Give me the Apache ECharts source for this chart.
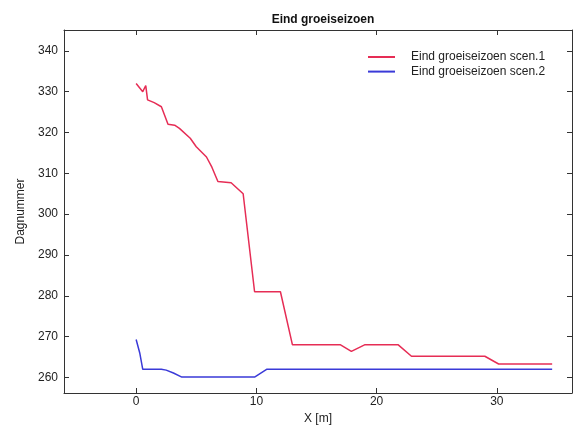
<!DOCTYPE html>
<html>
<head>
<meta charset="utf-8">
<script src="https://cdn.jsdelivr.net/npm/echarts@6/dist/echarts.min.js"></script>
<style>
  html, body { margin: 0; padding: 0; background: #fff; }
  #chart { width: 577px; height: 425px; }
</style>
</head>
<body>
<div id="chart"></div>
<script>
// Distance along the profile (m) and end-of-season day number per scenario
const scen1X = [0, 0.55, 0.8, 0.95, 1.5, 2.1, 2.65, 3.2, 3.6, 4.5, 5.0, 5.85, 6.3, 6.8, 7.9, 8.9, 9.85, 12.0, 13.0, 17.0, 17.9, 19.0, 21.8, 22.9, 29.0, 30.15, 34.6];
const scen1Y = [332, 330, 331.5, 328, 327.3, 326.3, 322, 321.8, 321, 318.6, 316.5, 314, 311.5, 308, 307.7, 305, 281, 281, 268, 268, 266.4, 268, 268, 265.2, 265.2, 263.3, 263.3];

const scen2X = [0, 0.15, 0.3, 0.45, 0.55, 2.1, 2.5, 3.1, 3.8, 9.85, 10.85, 34.6];
const scen2Y = [269.3, 269, 266, 265.6, 262, 262, 261.8, 261.1, 260.1, 260.1, 262, 262];

const xTicks = [0, 10, 20, 30];
const yTicks = [260, 270, 280, 290, 300, 310, 320, 330, 340];

const seriesNames = ['Eind groeiseizoen scen.1', 'Eind groeiseizoen scen.2'];
const titleText = 'Eind groeiseizoen';
const xName = 'X [m]';
const yName = 'Dagnummer';

const pairs = (xs, ys) => xs.map((x, i) => [x, ys[i]]);

const FONT = 'Liberation Sans, Arial, sans-serif';
const AX = '#333';
const X_MIN = -6, X_MAX = 36.25, Y_MIN = 256.2, Y_MAX = 345.1;

const tickStyle = { show: true, inside: true, length: 5, lineStyle: { color: AX, width: 1 } };

const chart = echarts.init(document.getElementById('chart'), null, { renderer: 'canvas' });
chart.setOption({
  animation: false,
  backgroundColor: '#fff',
  title: {
    text: titleText,
    left: 318, textAlign: 'center', top: 9,
    textStyle: { fontFamily: FONT, fontSize: 12, fontWeight: 'bold', color: '#111' }
  },
  legend: {
    orient: 'vertical',
    left: 363, top: 46,
    itemWidth: 27, itemHeight: 14, itemGap: 2.6,
    icon: 'path://M0,6 L27,6 L27,8 L0,8 Z',
    textStyle: { fontFamily: FONT, fontSize: 12, color: '#222', padding: [0, 0, 0, 11] },
    data: seriesNames
  },
  grid: { left: 64, right: 5, top: 30, bottom: 32, containLabel: false, outerBoundsMode: 'none' },
  xAxis: [
    {
      type: 'value', min: X_MIN, max: X_MAX, position: 'bottom',
      name: xName, nameLocation: 'middle', nameGap: 20,
      nameTextStyle: { fontFamily: FONT, fontSize: 12, color: '#222' },
      axisLine: { show: true, onZero: false, lineStyle: { color: AX, width: 1 } },
      axisTick: Object.assign({ customValues: xTicks }, tickStyle),
      axisLabel: { customValues: xTicks, margin: 3, fontFamily: FONT, fontSize: 12, color: '#222' },
      splitLine: { show: false }
    },
    {
      type: 'value', min: X_MIN, max: X_MAX, position: 'top',
      axisLine: { show: true, onZero: false, lineStyle: { color: AX, width: 1 } },
      axisTick: Object.assign({ customValues: xTicks }, tickStyle),
      axisLabel: { show: false },
      splitLine: { show: false }
    }
  ],
  yAxis: [
    {
      type: 'value', min: Y_MIN, max: Y_MAX, position: 'left',
      name: yName, nameLocation: 'middle', nameGap: 35, nameRotate: 90,
      nameTextStyle: { fontFamily: FONT, fontSize: 12, color: '#222' },
      axisLine: { show: true, onZero: false, lineStyle: { color: AX, width: 1 } },
      axisTick: Object.assign({ customValues: yTicks }, tickStyle),
      axisLabel: { customValues: yTicks, margin: 6, fontFamily: FONT, fontSize: 12, color: '#222' },
      splitLine: { show: false }
    },
    {
      type: 'value', min: Y_MIN, max: Y_MAX, position: 'right',
      axisLine: { show: true, onZero: false, lineStyle: { color: AX, width: 1 } },
      axisTick: Object.assign({ customValues: yTicks }, tickStyle),
      axisLabel: { show: false },
      splitLine: { show: false }
    }
  ],
  series: [
    {
      name: seriesNames[0], type: 'line', xAxisIndex: 0, yAxisIndex: 0,
      data: pairs(scen1X, scen1Y),
      symbol: 'none', showSymbol: false,
      lineStyle: { color: '#e62d55', width: 1.5 }, itemStyle: { color: '#e62d55' }
    },
    {
      name: seriesNames[1], type: 'line', xAxisIndex: 0, yAxisIndex: 0,
      data: pairs(scen2X, scen2Y),
      symbol: 'none', showSymbol: false,
      lineStyle: { color: '#3a3ad8', width: 1.5 }, itemStyle: { color: '#3a3ad8' }
    }
  ]
});
</script>
</body>
</html>
